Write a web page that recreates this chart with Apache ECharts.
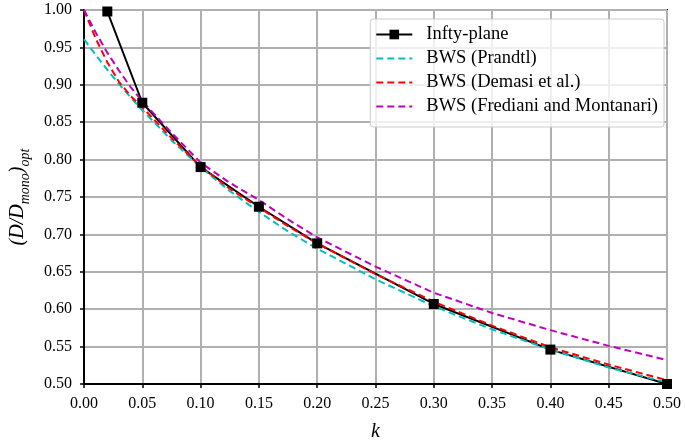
<!DOCTYPE html>
<html>
<head>
<meta charset="utf-8">
<script src="https://cdn.jsdelivr.net/npm/echarts@6/dist/echarts.min.js"></script>
<style>
  html, body { margin: 0; background: #fff; }
  #chart { width: 685px; height: 447px; }
</style>
</head>
<body>
<div id="chart"></div>
<script>
// data
var kPlane = [0.02, 0.05, 0.10, 0.15, 0.20, 0.30, 0.40, 0.50]
var infPlane = [0.998, 0.876, 0.790, 0.737, 0.688, 0.607, 0.546, 0.500]

var kFine = [0, 0.01, 0.02, 0.03, 0.04, 0.05, 0.075, 0.10, 0.125, 0.15, 0.175, 0.20, 0.25, 0.30, 0.35, 0.40, 0.45, 0.50]
var prandtl = [0.961, 0.940, 0.920, 0.901, 0.883, 0.866, 0.826, 0.790, 0.758, 0.730, 0.704, 0.681, 0.640, 0.604, 0.573, 0.546, 0.522, 0.502]
var demasi = [1.000, 0.962, 0.930, 0.904, 0.885, 0.870, 0.829, 0.791, 0.761, 0.736, 0.711, 0.688, 0.647, 0.610, 0.578, 0.549, 0.526, 0.505]
var frediani = [1.000, 0.970, 0.943, 0.919, 0.897, 0.878, 0.836, 0.796, 0.769, 0.746, 0.720, 0.696, 0.657, 0.622, 0.595, 0.572, 0.551, 0.532]

var seriesNames = ["Infty-plane", "BWS (Prandtl)", "BWS (Demasi et al.)", "BWS (Frediani and Montanari)"]

function pairs(xs, ys) {
  var out = []
  for (var i = 0; i < xs.length; i++) out.push([xs[i], ys[i]])
  return out
}

var serif = "Liberation Serif"
var chart = echarts.init(document.getElementById("chart"))

function dashed(name, ys, color) {
  return {
    name: name,
    type: "line",
    data: pairs(kFine, ys),
    smooth: false,
    symbol: "none",
    showSymbol: false,
    lineStyle: { color: color, width: 2, type: [7, 4] },
    itemStyle: { color: color }
  }
}

var option = {
  animation: false,
  grid: {
    left: 75, right: 18, top: 10, bottom: 53,
    show: true, borderColor: "#000", borderWidth: 2
  },
  legend: {
    orient: "vertical",
    right: 21, top: 19,
    itemWidth: 36, itemHeight: 12, itemGap: 5,
    padding: [6, 6, 11, 5],
    backgroundColor: "rgba(255,255,255,0.8)",
    borderColor: "#cccccc", borderWidth: 1, borderRadius: 3,
    textStyle: { fontFamily: serif, fontSize: 18.5, color: "#000", padding: [0, 0, 0, 9] },
    data: [
      { name: seriesNames[0] },
      { name: seriesNames[1], itemStyle: { opacity: 0 } },
      { name: seriesNames[2], itemStyle: { opacity: 0 } },
      { name: seriesNames[3], itemStyle: { opacity: 0 } }
    ]
  },
  xAxis: {
    type: "value",
    min: 0, max: 0.5, interval: 0.05,
    name: "k",
    nameLocation: "middle",
    nameGap: 38,
    nameTextStyle: { fontFamily: serif, fontSize: 20, fontStyle: "italic", color: "#000" },
    axisLine: { show: true, lineStyle: { color: "#000", width: 2 } },
    axisTick: { show: true, inside: false, length: 4, lineStyle: { color: "#000", width: 1.5 } },
    axisLabel: {
      color: "#000", fontFamily: serif, fontSize: 16, margin: 12,
      formatter: function (v) { return v.toFixed(2) }
    },
    splitLine: { show: true, lineStyle: { color: "#b0b0b0", width: 2 } }
  },
  yAxis: {
    type: "value",
    min: 0.5, max: 1.0, interval: 0.05,
    name: "{m|(D/D}{s|mono}{m|)}{s|opt}",
    nameLocation: "middle",
    nameGap: 52,
    nameTextStyle: {
      color: "#000",
      rich: {
        m: { fontFamily: serif, fontSize: 20, fontStyle: "italic", color: "#000", lineHeight: 24, verticalAlign: "top" },
        s: { fontFamily: serif, fontSize: 14, fontStyle: "italic", color: "#000", lineHeight: 24, verticalAlign: "bottom", padding: [8, 0, 0, 0] }
      }
    },
    axisLine: { show: true, lineStyle: { color: "#000", width: 2 } },
    axisTick: { show: true, inside: false, length: 4, lineStyle: { color: "#000", width: 1.5 } },
    axisLabel: {
      color: "#000", fontFamily: serif, fontSize: 16, margin: 12,
      formatter: function (v) { return v.toFixed(2) }
    },
    splitLine: { show: true, lineStyle: { color: "#b0b0b0", width: 2 } }
  },
  series: [
    {
      name: seriesNames[0],
      type: "line",
      data: pairs(kPlane, infPlane),
      symbol: "rect",
      symbolSize: 10,
      lineStyle: { color: "#000", width: 2 },
      itemStyle: { color: "#000" }
    },
    dashed(seriesNames[1], prandtl, "#00bfbf"),
    dashed(seriesNames[2], demasi, "#ff0000"),
    dashed(seriesNames[3], frediani, "#bf00bf")
  ]
}

chart.setOption(option)
</script>
</body>
</html>
